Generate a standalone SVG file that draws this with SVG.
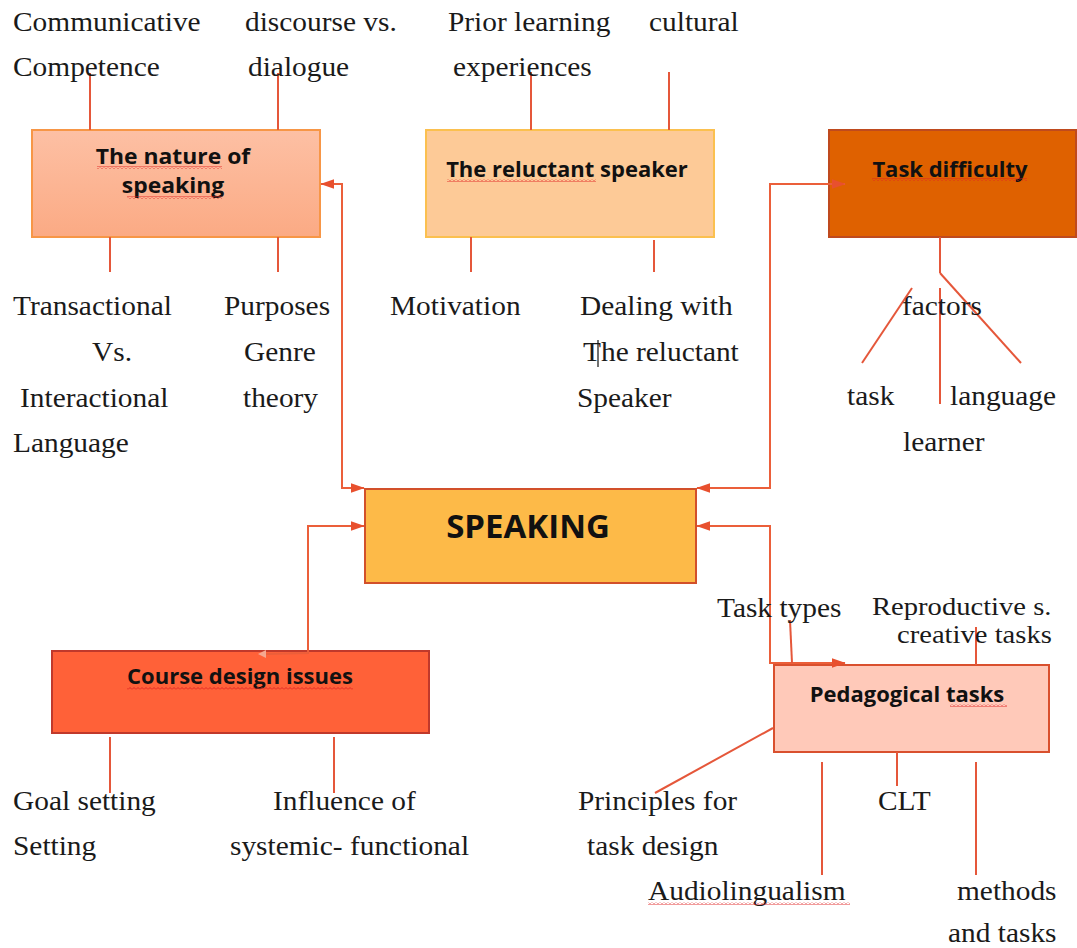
<svg xmlns="http://www.w3.org/2000/svg" width="1077" height="948" viewBox="0 0 1077 948">
<style>
.lbl{font-family:"Liberation Serif","Times New Roman",serif;font-size:28px;fill:#1a1a1a}
.sm{font-size:26px}
.ttl{font-family:"Open Sans","Noto Sans",sans-serif;font-weight:bold;font-size:22px;fill:#111;text-anchor:middle}
.br{stroke:#E5573A;stroke-width:2;fill:none}
.cn{stroke:#EB5F3A;stroke-width:2;fill:none}
</style>
<defs>
<linearGradient id="gNat" x1="0" y1="0" x2="0" y2="1">
<stop offset="0" stop-color="#FDC0A4"/><stop offset="1" stop-color="#FBAA84"/>
</linearGradient>
<marker id="ahs" viewBox="0 0 10 10" refX="9.5" refY="5" markerWidth="14" markerHeight="14" orient="auto-start-reverse" markerUnits="userSpaceOnUse">
<path d="M0,1.5 L10,5 L0,8.5 z" fill="#E8502E"/>
</marker>
<pattern id="sq" width="4" height="3" patternUnits="userSpaceOnUse">
<path d="M0,2.5 L2,0.5 L4,2.5" stroke="#E02020" stroke-width="0.9" fill="none"/>
</pattern>
</defs>
<rect width="1077" height="948" fill="#fff"/>

<g id="nature">
<rect x="32" y="130" width="288" height="107" fill="url(#gNat)" stroke="#F79646" stroke-width="2"/>
<text class="ttl" x="173" y="164" font-size="21" transform="translate(173,0) scale(1.04,1) translate(-173,0)">The nature of</text>
<text class="ttl" x="173" y="193" font-size="21" transform="translate(173,0) scale(1.04,1) translate(-173,0)">speaking</text>
<rect x="97" y="166" width="125" height="3" fill="url(#sq)"/>
<rect x="127" y="196" width="95" height="3" fill="url(#sq)"/>
</g>

<g id="reluctant">
<rect x="426" y="130" width="288" height="107" fill="#FDCA97" stroke="#FBC04F" stroke-width="2"/>
<text class="ttl" x="567" y="177">The reluctant speaker</text>
<rect x="447" y="179" width="149" height="3" fill="url(#sq)"/>
</g>

<g id="taskdiff">
<rect x="829" y="130" width="247" height="107" fill="#DF6100" stroke="#BF4A1E" stroke-width="2"/>
<text class="ttl" x="950" y="177">Task  difficulty</text>
<rect x="872" y="178" width="155" height="3" fill="url(#sq)"/>
</g>

<g id="speaking">
<rect x="365" y="489" width="331" height="94" fill="#FDBA48" stroke="#D2502A" stroke-width="2"/>
<text x="528" y="538" font-family="'Open Sans','Noto Sans',sans-serif" font-weight="bold" font-size="33" fill="#111" text-anchor="middle">SPEAKING</text>
</g>

<g id="course">
<rect x="52" y="651" width="377" height="82" fill="#FF6138" stroke="#C0392B" stroke-width="2"/>
<text class="ttl" x="240" y="684">Course design issues</text>
<rect x="127" y="687" width="226" height="3" fill="url(#sq)"/>
</g>

<g id="pedagogical">
<rect x="774" y="665" width="275" height="87" fill="#FFC9B9" stroke="#D9502E" stroke-width="2"/>
<text class="ttl" x="907" y="702" font-size="21">Pedagogical  tasks</text>
<rect x="950" y="704" width="57" height="3" fill="url(#sq)"/>
</g>

<g id="connectors">
<polyline class="cn" points="321,184 342,184 342,488 364,488" marker-start="url(#ahs)" marker-end="url(#ahs)"/>
<polyline class="cn" points="845,184 770,184 770,488 697,488" marker-start="url(#ahs)" marker-end="url(#ahs)"/>
<polyline class="cn" points="364,526 308,526 308,653 264,654" marker-start="url(#ahs)"/>
<path d="M266,650 L258,654 L266,658" fill="#F5A890" stroke="none"/>
<polyline class="cn" points="697,526 770,526 770,663 845,663" marker-start="url(#ahs)" marker-end="url(#ahs)"/>
<g class="br">
<line x1="90" y1="73" x2="90" y2="130"/>
<line x1="278" y1="73" x2="278" y2="130"/>
<line x1="110" y1="237" x2="110" y2="272"/>
<line x1="278" y1="237" x2="278" y2="272"/>
<line x1="531" y1="72" x2="531" y2="130"/>
<line x1="669" y1="72" x2="669" y2="130"/>
<line x1="471" y1="237" x2="471" y2="272"/>
<line x1="654" y1="240" x2="654" y2="272"/>
<line x1="940" y1="237" x2="940" y2="273"/>
<line x1="940" y1="273" x2="1021" y2="363"/>
<line x1="912" y1="288" x2="862" y2="363"/>
<line x1="940" y1="288" x2="940" y2="404"/>
<line x1="110" y1="737" x2="110" y2="793"/>
<line x1="334" y1="737" x2="334" y2="793"/>
<line x1="790" y1="620" x2="792" y2="663"/>
<line x1="976" y1="627" x2="976" y2="665"/>
<line x1="773" y1="728" x2="655" y2="793"/>
<line x1="822" y1="762" x2="822" y2="875"/>
<line x1="897" y1="752" x2="897" y2="786"/>
<line x1="976" y1="762" x2="976" y2="875"/>
</g>
</g>

<g id="labels">
<text class="lbl" transform="translate(13,31) scale(1.05,1)">Communicative</text>
<text class="lbl" transform="translate(13,76) scale(1.05,1)">Competence</text>
<text class="lbl" transform="translate(245,31) scale(1.05,1)">discourse vs.</text>
<text class="lbl" transform="translate(248,76) scale(1.05,1)">dialogue</text>
<text class="lbl" transform="translate(448,31) scale(1.05,1)">Prior learning</text>
<text class="lbl" transform="translate(453,76) scale(1.05,1)">experiences</text>
<text class="lbl" transform="translate(649,31) scale(1.05,1)">cultural</text>

<text class="lbl" transform="translate(13,315) scale(1.05,1)">Transactional</text>
<text class="lbl" transform="translate(92,361) scale(1.05,1)">Vs.</text>
<text class="lbl" transform="translate(20,407) scale(1.05,1)">Interactional</text>
<text class="lbl" transform="translate(13,452) scale(1.05,1)">Language</text>
<text class="lbl" transform="translate(224,315) scale(1.05,1)">Purposes</text>
<text class="lbl" transform="translate(244,361) scale(1.05,1)">Genre</text>
<text class="lbl" transform="translate(243,407) scale(1.05,1)">theory</text>
<text class="lbl" transform="translate(390,315) scale(1.05,1)">Motivation</text>
<text class="lbl" transform="translate(580,315) scale(1.05,1)">Dealing with</text>
<text class="lbl" transform="translate(583,361) scale(1.05,1)">The reluctant</text>
<line x1="598" y1="340" x2="598" y2="367" stroke="#111" stroke-width="1.2"/>
<text class="lbl" transform="translate(577,407) scale(1.05,1)">Speaker</text>
<text class="lbl" transform="translate(902,315) scale(1.05,1)">factors</text>
<text class="lbl" transform="translate(847,405) scale(1.05,1)">task</text>
<text class="lbl" transform="translate(950,405) scale(1.05,1)">language</text>
<text class="lbl" transform="translate(903,451) scale(1.05,1)">learner</text>

<text class="lbl" transform="translate(717,617) scale(1.05,1)">Task types</text>
<text class="lbl sm" transform="translate(872,615) scale(1.1,1)">Reproductive s.</text>
<text class="lbl sm" transform="translate(897,643) scale(1.1,1)">creative tasks</text>
<text class="lbl" transform="translate(578,810) scale(1.05,1)">Principles for</text>
<text class="lbl" transform="translate(587,855) scale(1.05,1)">task design</text>
<text class="lbl" transform="translate(878,810) scale(1.05,1)">CLT</text>
<text class="lbl" transform="translate(648,900) scale(1.05,1)">Audiolingualism</text>
<rect x="648" y="902" width="202" height="3" fill="url(#sq)"/>
<text class="lbl" transform="translate(957,900) scale(1.05,1)">methods</text>
<text class="lbl" transform="translate(948,942) scale(1.05,1)">and tasks</text>
<text class="lbl" transform="translate(13,810) scale(1.05,1)">Goal setting</text>
<text class="lbl" transform="translate(13,855) scale(1.05,1)">Setting</text>
<text class="lbl" transform="translate(273,810) scale(1.05,1)">Influence of</text>
<text class="lbl" transform="translate(230,855) scale(1.05,1)">systemic- functional</text>
</g>
</svg>
